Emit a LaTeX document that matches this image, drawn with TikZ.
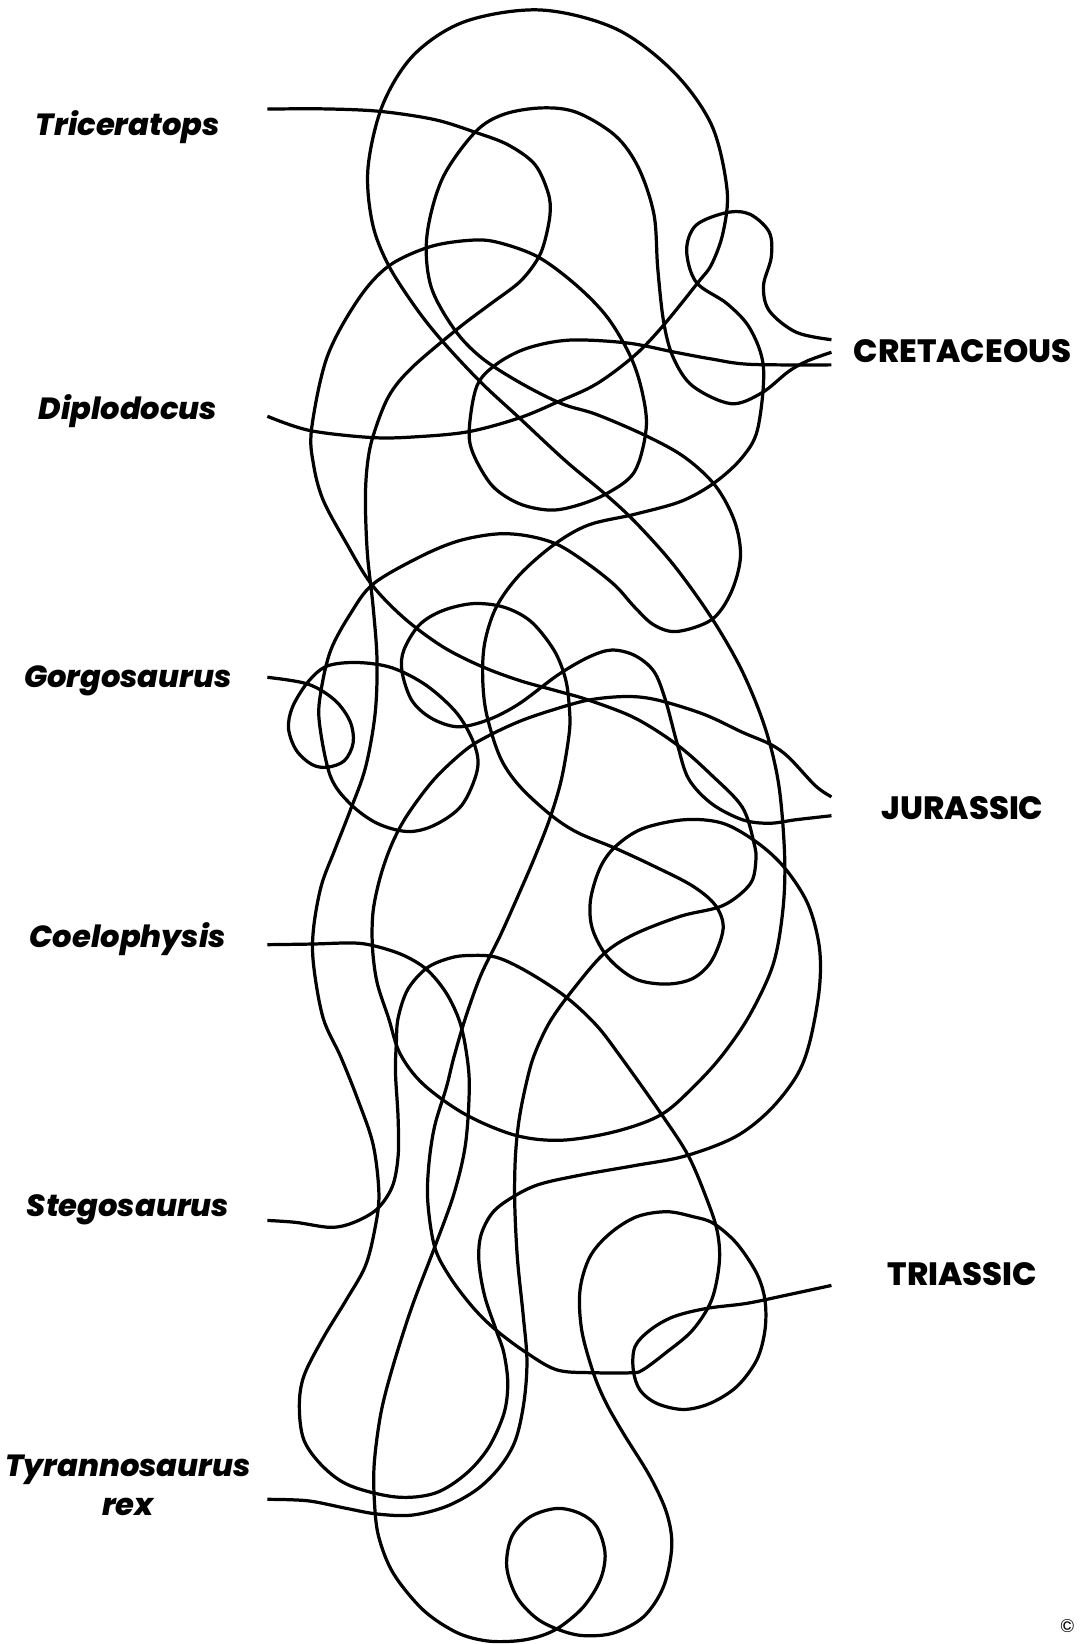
\documentclass[tikz,border=0pt]{standalone}
\usepackage{fontspec}
\setmainfont{Poppins}[BoldFont={Poppins ExtraBold}, BoldItalicFont={Poppins ExtraBold Italic}]
\begin{document}
\begin{tikzpicture}[x=0.02cm, y=-0.02cm,
    tangle/.style={line width=1.75pt, line join=round},
    dino/.style={font=\fontsize{16.6}{20}\selectfont\bfseries\itshape, anchor=base},
    period/.style={font=\fontsize{17.5}{20}\selectfont\bfseries, anchor=base}]
  % Page frame, white, no border
  \useasboundingbox (0,0) rectangle (1033,1568);

  % Dinosaur names on the left
  \foreach \id/\y/\lab in {tri/129/Triceratops, dip/400/Diplodocus, gor/656/Gorgosaurus,
                          coe/904/Coelophysis, ste/1160/Stegosaurus, tyr/1408/Tyrannosaurus} {
    \node[dino] (\id) at (122,\y) {\lab};
  }
  \node[dino] (rex) at (122,1445) {rex};

  % Periods on the right
  \foreach \id/\y/\lab in {cre/346/CRETACEOUS, jur/782/JURASSIC, tria/1226/TRIASSIC} {
    \node[period] (\id) at (918,\y) {\lab};
  }
  \node[font=\fontsize{10}{11}\selectfont] (copy) at (1018,1551) {©};

  % Line ends
  \coordinate (triL) at (255,104);
  \coordinate (dipL) at (255,397);
  \coordinate (gorL) at (255,646);
  \coordinate (coeL) at (255,901);
  \coordinate (steL) at (255,1164);
  \coordinate (rexL) at (255,1430);
  \coordinate (creA) at (793,324);
  \coordinate (creB) at (793,336);
  \coordinate (creC) at (793,348);
  \coordinate (jurA) at (793,760);
  \coordinate (jurB) at (793,778);
  \coordinate (triR) at (793,1226);

  % Triceratops -> Cretaceous (top)
  \draw[tangle] plot[smooth, tension=0.55] coordinates {(triL) (311.9,103.9) (363.2,106.3)
    (414.6,114.1) (453.1,126.1) (484.3,138) (510,156.7) (522.8,184) (524.6,204.4) (519.1,231.7)
    (511.8,248.7) (495.3,269.2) (465.9,291.3) (436.6,313.5) (392.6,350.9) (370.6,378.2)
    (355.9,415.7) (350.4,442.9) (348.5,477) (350.4,528) (355.9,579.1) (359.6,630.2) (357.7,681.3)
    (348.5,732.4) (333.9,773.3) (319.2,810.8) (306.4,844.9) (299,885.8) (299,919.8) (308.2,971)
    (325,1008) (341.2,1048.5) (355.9,1091.8) (361.4,1138.8) (357.7,1171.3) (348.5,1207.4)
    (330.2,1239.9) (308.2,1276.1) (289.9,1312.2) (285.5,1341.1) (289.9,1373.6) (308.2,1398.9)
    (333.9,1417) (377.9,1427.8) (414.6,1424.2) (443.9,1406.1) (465.9,1380.8) (480.6,1348.3)
    (484.3,1319.4) (480.6,1290.5) (473.3,1268.8) (462.3,1236.3) (456.8,1203.8) (458.6,1178.5)
    (469.6,1156.8) (487.9,1142.4) (513.6,1129.8) (554,1120.7) (605.3,1111.7) (653,1102.7)
    (700.7,1084.6) (733.7,1059.3) (759.4,1026.8) (772,995) (781.4,943.7) (781.4,902.8)
    (770.4,861.9) (748.4,827.8) (722.7,804) (689.7,785.3) (653,781.8) (612.7,790.4) (587,807.4)
    (572.3,827.8) (563.2,858.5) (565,885.8) (579.7,913) (605.3,933.4) (634.7,938.6) (660.4,933.4)
    (678.7,916.4) (689.7,885.8) (682.4,863.6) (660.4,844.9) (623.7,826.1) (587,809.1)
    (550.3,793.8) (524.6,776.7) (495.3,749.5) (477,722.2) (464.1,681.3) (460.4,647.3)
    (462.3,613.2) (473.3,579.1) (495.3,548.5) (528.3,519.5) (561.3,500.7) (605.3,490.5)
    (650,478) (682,460) (708,436.1) (722.7,408.9) (728.2,350.9) (715.4,313.5) (693.4,289.6)
    (664,269.2) (654.9,238.5) (664,214.7) (693.4,202.7) (715.4,204.4) (733.7,221.5)
    (735.6,245.3) (728.2,272.6) (733.7,296.4) (759.4,316.9) (creA)};

  % Diplodocus -> Jurassic (top)
  \draw[tangle] plot[smooth, tension=0.55] coordinates {(dipL) (295.4,410.6) (355.9,417.4)
    (399.9,416.4) (447.6,411.6) (495.3,398.6) (532,383.3) (568.7,366.3) (605.3,339)
    (632.9,310.1) (665.9,269.2) (678.7,252.1) (689.7,221.5) (693.4,180.6) (678.7,119.3)
    (642,68.1) (587,27.3) (515.5,9.5) (443.9,20.4) (395,52) (365,100) (351,160)
    (355,212) (370,252) (396.2,293) (421.9,325.4) (458.6,364.6) (495.3,398.6)
    (539.3,439.5) (576,470.2) (605.3,497.3) (642,538.2) (678.7,589.3) (708,640.4) (730,695)
    (742.9,749.5) (748.4,817.6) (746.6,868.7) (737.4,919.8) (715.4,967.5) (690,1005) (664,1034)
    (631,1062.9) (587,1079.2) (535.6,1087.5) (491.6,1082.8) (443.9,1062.9) (403.6,1034)
    (381.6,1005) (370.6,971) (359.6,936.9) (355.2,902.8) (355.9,868.7) (363.2,834.7)
    (374.2,804) (388.9,776.7) (414.6,742.7) (443.9,715.4) (465.9,701.8) (495.3,688.1)
    (524.6,677.9) (561.3,667.7) (598,664.3) (627.3,667.7) (671.4,681.3) (708,698.4)
    (735,710) (752.1,722.2) (777.8,749.5) (jurA)};

  % Gorgosaurus -> Cretaceous (middle)
  \draw[tangle] plot[smooth, tension=0.55] coordinates {(gorL) (293.5,652.4) (319.2,667.7)
    (333.9,688.1) (336.8,708.6) (328.4,725.6) (311.9,731.8) (297.2,729) (282.5,715.4)
    (275.2,695) (278.9,674.5) (293.5,650.7) (311.9,635.3) (341.2,631.9) (374.2,637)
    (407.2,654.1) (436.6,681.3) (453.1,712) (454.9,735.8) (440.3,768.2) (414.6,786.9)
    (388.9,793.1) (359.6,785.2) (333.9,766.5) (315,740) (304.5,688.1) (306.4,657.5)
    (315.5,620) (333.9,585.9) (355.9,557) (399.9,531.4) (436.6,516.1) (473.3,509.3)
    (502.6,511) (532,519.5) (561.3,538.2) (587,558.7) (605.3,579.1) (623.7,596.1)
    (645.7,602.3) (678.7,591) (697.1,565.5) (706.2,531.4) (700.7,497.4) (682.4,463.4)
    (653,436.1) (616.3,415.7) (568.7,395.2) (535.6,385) (495.3,364.6) (458.6,340.7)
    (432.9,313.5) (410.9,272.6) (407.2,224.9) (421.9,170.4) (453.1,126.1) (480.6,109)
    (517.3,102.9) (550.3,107.3) (587,129.5) (609,160.1) (623.7,204.4) (627.3,255.5)
    (632.9,306.6) (642,340.7) (660.4,368) (697.1,385) (726.4,374.8) (752.1,354.3)
    (770.4,344.1) (creB)};

  % Coelophysis -> Triassic
  \draw[tangle] plot[smooth, tension=0.55] coordinates {(coeL) (297.2,900.4) (337.5,899.4)
    (359.6,902.8) (385.2,911.3) (407.2,924.9) (425.6,947.1) (438.4,974.3) (445,1005)
    (447.6,1037.6) (443.9,1091.8) (432.9,1138.8) (414.6,1189.4) (392.6,1247.2) (374.2,1305)
    (363.2,1348.3) (357,1395) (357,1430) (361,1465) (375.2,1500.7) (403.8,1535.7)
    (435.6,1557) (464.2,1565) (492.9,1565) (515.1,1560.5) (534.2,1551.6) (556.5,1532.5)
    (572.4,1507.1) (577.1,1481.6) (569.2,1456.2) (553.3,1443.5) (531,1438.7) (505.6,1446.7)
    (488.1,1465.7) (483.3,1494.4) (492.9,1523) (511.9,1543.6) (534.2,1554.8) (556.5,1560)
    (585.1,1557.5) (613.7,1542.1) (632.8,1513.4) (640.7,1475.3) (636,1443.5) (620.1,1408.5)
    (594.6,1367.2) (578,1338) (565.9,1309.3) (554.8,1268.6) (553.2,1230.4) (562.7,1198.6)
    (581.8,1176.4) (607.2,1160.5) (635.9,1155.7) (661.3,1160.5) (680.4,1166.8) (702.6,1185.9)
    (721.7,1214.5) (729.6,1240) (729.6,1268.6) (721.7,1297.2) (702.6,1322.6) (677.2,1338.5)
    (651.8,1344.3) (626.3,1338.5) (610.4,1325.8) (604,1306.7) (605.6,1284.5) (620,1268.6)
    (642.2,1255.9) (674,1247.9) (712.2,1243.1) (750.3,1235.2) (triR)};

  % Stegosaurus -> Jurassic (bottom)
  \draw[tangle] plot[smooth, tension=0.55] coordinates {(steL) (282.5,1165.9) (315.5,1170.6)
    (337.5,1165.9) (359.6,1153.2) (374.2,1131.6) (379.7,1102.7) (379.7,1066.5) (377.2,1023.2)
    (378,995) (379.7,971) (388.9,943.7) (407.2,923.2) (429.3,913.7) (447.6,911.3) (473.3,913)
    (502.6,926.6) (539.3,950.5) (568.7,977.7) (592,1008) (631,1062.9) (656.7,1102.7)
    (675,1146) (684.2,1174.9) (686.1,1203.8) (678.7,1239.9) (660.4,1268.8) (634.7,1290.5)
    (612.7,1306.8) (601.7,1309.3) (568.7,1309.3) (532,1306.8) (502.6,1290.5) (473.3,1268.8)
    (451.3,1247.2) (429.3,1218.3) (414.6,1189.4) (408,1146) (409.1,1109.9) (414.6,1073.8)
    (425.6,1037.6) (433,1008) (443.9,971) (458.6,930.1) (477,892.6) (495.3,851.7)
    (510,817.6) (524.6,780.1) (535.6,742.7) (543,698.4) (543,674.5) (539.3,647.3)
    (528.3,620) (506.3,592.7) (480.6,579.1) (451.3,575.7) (421.9,582.5) (399.9,596.1)
    (385.2,620) (383.4,640.4) (392.6,667.7) (410.9,684.7) (436.6,693.2) (465.9,686.4)
    (495.3,671.1) (532,643.8) (561.3,626.8) (583.3,620) (605.3,625.1) (623.7,640.4)
    (634.7,667.7) (645.7,708.6) (656.7,742.7) (678.7,766.5) (708,781.8) (733.7,785.2)
    (759.4,781.8) (jurB)};

  % Tyrannosaurus rex -> Cretaceous (bottom)
  \draw[tangle] plot[smooth, tension=0.55] coordinates {(rexL) (293.5,1431.4) (330.2,1438.6)
    (359.6,1444) (392.6,1445.1) (425.6,1436.8) (454.9,1420.6) (476.9,1398.9) (491.6,1373.6)
    (499.7,1337.5) (502.6,1297.7) (499,1254.4) (493.5,1200.2) (490.9,1146) (491.6,1102.7)
    (495.3,1066.5) (502.6,1030.4) (510,1005) (524.6,974.3) (546.6,943.7) (576,909.6)
    (605.3,890.9) (649.3,873.8) (689.7,863.6) (715.4,843.2) (720.9,821) (719.1,804)
    (708,769.9) (678.7,739.3) (645.7,710.3) (605.3,684.7) (561.3,667.7) (532,659.2)
    (495.3,649) (458.6,635.3) (421.9,616.6) (385.2,589.3) (354.1,557) (330.2,517.8)
    (308.2,476.9) (299,442.9) (297.2,408.9) (311.9,340.7) (341.2,286.2) (370.6,253.8)
    (410.9,235.1) (451.3,229) (476.9,231.7) (513.6,245.3) (550.3,272.6) (579.7,303.2)
    (601.7,340.7) (612.7,374.8) (616.3,408.9) (605.3,449.7) (579.7,470.2) (550.3,482.1)
    (524.6,486.5) (495.3,480.4) (469.6,463.4) (451.3,432.7) (447.6,408.9) (454.9,368)
    (473.3,347.5) (502.6,332.2) (543,324.4) (598,327.1) (642,335.6) (678.7,342.4)
    (715.4,347.5) (creC)};
\end{tikzpicture}
\end{document}
